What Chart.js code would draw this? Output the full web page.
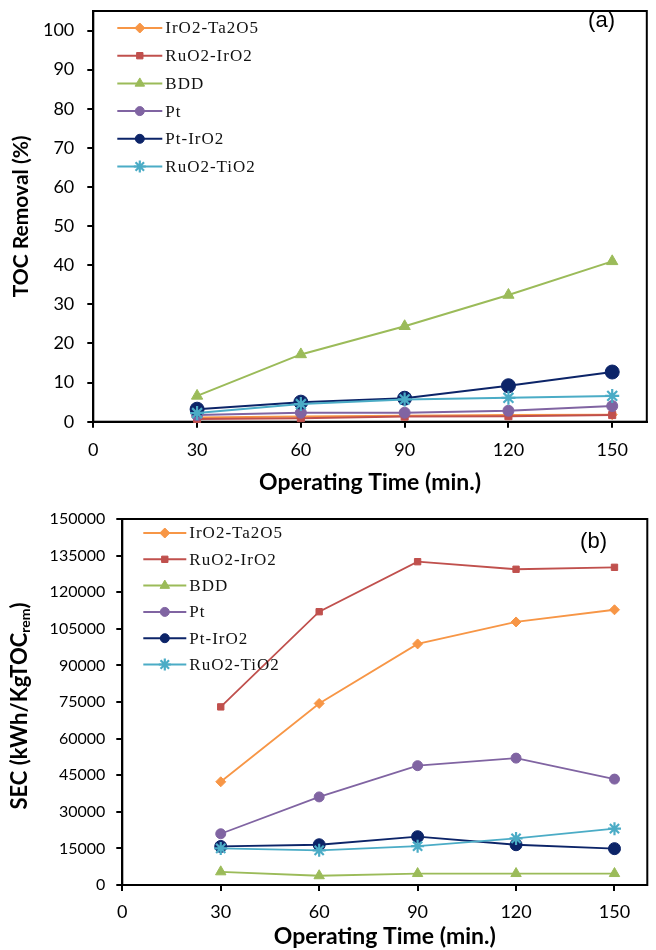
<!DOCTYPE html>
<html><head><meta charset="utf-8">
<script src="https://cdn.jsdelivr.net/npm/chart.js@4.4.1/dist/chart.umd.min.js"></script>
<style>
html,body{margin:0;padding:0;background:#fff;}
#wrap{position:relative;width:656px;height:950px;background:#fff;}
#cA{position:absolute;left:0;top:0;}
#cB{position:absolute;left:0;top:500px;}
</style></head><body>
<div id="wrap"><canvas id="cA" width="656" height="500"></canvas><canvas id="cB" width="656" height="450"></canvas></div>
<script>
// ---------- DATA ----------
const times = [30, 60, 90, 120, 150];
const seriesNames = ['IrO2-Ta2O5', 'RuO2-IrO2', 'BDD', 'Pt', 'Pt-IrO2', 'RuO2-TiO2'];

// (a) TOC Removal (%)
const tocIrO2Ta2O5 = [1.1, 1.3, 1.5, 1.7, 1.8];
const tocRuO2IrO2  = [0.7, 0.9, 1.3, 1.4, 1.7];
const tocBDD       = [6.6, 17.2, 24.4, 32.4, 41.0];
const tocPt        = [1.7, 2.3, 2.3, 2.8, 4.0];
const tocPtIrO2    = [3.2, 5.0, 6.0, 9.2, 12.7];
const tocRuO2TiO2  = [2.2, 4.5, 5.7, 6.1, 6.6];

// (b) SEC (kWh/KgTOC_rem)
const secIrO2Ta2O5 = [42300, 74400, 98800, 107800, 112800];
const secRuO2IrO2  = [73000, 112000, 132500, 129400, 130200];
const secBDD       = [5400, 3800, 4700, 4700, 4700];
const secPt        = [21000, 36100, 48900, 52000, 43400];
const secPtIrO2    = [15800, 16500, 19800, 16500, 14900];
const secRuO2TiO2  = [15000, 14200, 15900, 19100, 23100];

const xTickValues  = [0, 30, 60, 90, 120, 150];
const yTickValuesA = [0, 10, 20, 30, 40, 50, 60, 70, 80, 90, 100];
const yTickValuesB = [0, 15000, 30000, 45000, 60000, 75000, 90000, 105000, 120000, 135000, 150000];

const xTitle = 'Operating Time (min.)';
const yTitleA = 'TOC Removal (%)';
const yTitleBMain = 'SEC (kWh/KgTOC';
const yTitleBSub = 'rem';
const yTitleBEnd = ')';
const panelA = '(a)';
const panelB = '(b)';

// ---------- STYLES ----------
const colors = ['#F79646', '#C0504D', '#9BBB59', '#8064A2', '#0C2468', '#4BACC6'];
const pStyles = ['rectRot', 'rect', 'triangle', 'circle', 'circle', 'star'];
const radiiA = [5, 5, 6.5, 5.5, 7, 7];
const radiiB = [5, 4.5, 6, 5, 6, 6.5];
const legendRadii = [5, 4.5, 5.5, 4.5, 4.5, 6];

function makeDatasets(arrs, radii, lw) {
  return arrs.map((vals, i) => ({
    label: seriesNames[i],
    data: times.map((t, k) => ({x: t, y: vals[k]})),
    borderColor: colors[i],
    backgroundColor: colors[i],
    pointBackgroundColor: colors[i],
    pointBorderColor: colors[i],
    pointStyle: pStyles[i],
    pointRadius: radii[i],
    pointBorderWidth: pStyles[i] === 'star' ? 2.2 : 1,
    borderWidth: lw,
    tension: 0,
    fill: false,
    clip: false,
    order: arrs.length - i
  }));
}

const boxPlugin = {
  id: 'box',
  beforeDatasetsDraw(chart) {
    const a = chart.chartArea, ctx = chart.ctx;
    ctx.save();
    ctx.strokeStyle = '#000';
    ctx.lineWidth = 2;
    ctx.strokeRect(a.left, a.top, a.right - a.left, a.bottom - a.top);
    ctx.restore();
  }
};

const legendPlugin = {
  id: 'lineLegend',
  afterDraw(chart, args, opts) {
    const ctx = chart.ctx, a = chart.chartArea;
    ctx.save();
    chart.data.datasets.forEach((ds, i) => {
      const y = a.top + opts.y0 + i * opts.dy;
      const x0 = a.left + opts.x0, x1 = x0 + opts.len, xm = (x0 + x1) / 2;
      ctx.strokeStyle = ds.borderColor;
      ctx.lineWidth = 2;
      ctx.beginPath(); ctx.moveTo(x0, y); ctx.lineTo(x1, y); ctx.stroke();
      ctx.fillStyle = ds.borderColor;
      ctx.strokeStyle = ds.borderColor;
      ctx.lineWidth = ds.pointStyle === 'star' ? 2.2 : 1;
      Chart.helpers.drawPoint(ctx, {pointStyle: ds.pointStyle, radius: legendRadii[i], rotation: 0, borderWidth: ctx.lineWidth}, xm, y);
      ctx.fillStyle = '#111';
      ctx.font = '17px "Liberation Serif"';
      ctx.letterSpacing = '1px';
      ctx.textBaseline = 'middle';
      ctx.textAlign = 'left';
      ctx.fillText(ds.label, x1 + opts.gap, y + 1);
    });
    ctx.restore();
  }
};

const panelPlugin = {
  id: 'panelLabel',
  afterDraw(chart, args, opts) {
    const ctx = chart.ctx;
    ctx.save();
    ctx.fillStyle = '#000';
    ctx.font = '22px "Liberation Sans"';
    ctx.textAlign = 'right';
    ctx.textBaseline = 'middle';
    ctx.fillText(opts.text, opts.x, opts.y);
    ctx.restore();
  }
};

const subTitlePlugin = {
  id: 'subTitle',
  afterDraw(chart, args, opts) {
    if (!opts.main) return;
    const ctx = chart.ctx;
    ctx.save();
    ctx.fillStyle = '#000';
    const fMain = 'bold 22px Lato', fSub = 'bold 14px Lato';
    ctx.font = fMain; const w1 = ctx.measureText(opts.main).width; const w3 = ctx.measureText(opts.end).width;
    ctx.font = fSub; const w2 = ctx.measureText(opts.sub).width;
    const total = w1 + w2 + w3;
    ctx.translate(opts.x, opts.y);
    ctx.rotate(-Math.PI / 2);
    ctx.textBaseline = 'middle';
    ctx.textAlign = 'left';
    let x = -total / 2;
    ctx.font = fMain; ctx.fillText(opts.main, x, 0); x += w1;
    ctx.font = fSub; ctx.fillText(opts.sub, x, 5); x += w2;
    ctx.font = fMain; ctx.fillText(opts.end, x, 0);
    ctx.restore();
  }
};

function noPad(s) { s.paddingTop = 0; s.paddingBottom = 0; s.paddingLeft = 0; s.paddingRight = 0; }

function makeOptions(cfg) {
  return {
    responsive: false,
    animation: false,
    devicePixelRatio: 1,
    layout: {padding: {top: cfg.padTop, right: 3.3, left: 0, bottom: 0}},
    plugins: {
      legend: {display: false},
      tooltip: {enabled: false},
      lineLegend: cfg.legend,
      panelLabel: cfg.panel,
      subTitle: cfg.sub || {}
    },
    scales: {
      x: {
        type: 'linear', min: 0, max: 160,
        afterBuildTicks: s => { s.ticks = xTickValues.map(v => ({value: v})); },
        afterFit: s => { s.height = cfg.xHeight; noPad(s); },
        ticks: {color: '#000', font: {family: 'Lato', size: 18}, padding: cfg.xTickPad, maxRotation: 0, autoSkip: false},
        grid: {display: true, drawOnChartArea: false, drawTicks: true, tickLength: 6, color: '#000', lineWidth: 2},
        border: {display: true, color: '#000', width: 2},
        title: {display: true, text: xTitle, color: '#000', font: {family: 'Lato', size: 23, weight: 'bold'}, padding: {top: 0, bottom: cfg.xTitlePad}}
      },
      y: {
        type: 'linear', min: 0, max: cfg.yMax,
        afterBuildTicks: s => { s.ticks = cfg.yTicks.map(v => ({value: v})); },
        afterFit: s => { s.width = cfg.yWidth; noPad(s); },
        ticks: {color: '#000', font: {family: 'Lato', size: cfg.yTickSize}, padding: cfg.yTickPad, callback: v => String(v), autoSkip: false},
        grid: {display: true, drawOnChartArea: false, drawTicks: true, tickLength: 6, color: '#000', lineWidth: 2},
        border: {display: true, color: '#000', width: 2},
        title: {display: !!cfg.yTitle, text: cfg.yTitle || '', color: '#000', font: {family: 'Lato', size: 21, weight: 'bold'}, padding: {top: cfg.yTitlePad || 0, bottom: 0}}
      }
    }
  };
}

new Chart(document.getElementById('cA'), {
  type: 'line',
  data: {datasets: makeDatasets([tocIrO2Ta2O5, tocRuO2IrO2, tocBDD, tocPt, tocPtIrO2, tocRuO2TiO2], radiiA, 2)},
  options: makeOptions({
    padTop: 11, yMax: 105, yTicks: yTickValuesA, yWidth: 93.3, xHeight: 78.3, yTickSize: 18,
    xTickPad: 12, yTickPad: 13, xTitlePad: 4, yTitle: yTitleA, yTitlePad: 9,
    legend: {x0: 24, len: 45, gap: 3, y0: 17, dy: 27.7},
    panel: {text: panelA, x: 615, y: 21}
  }),
  plugins: [boxPlugin, legendPlugin, panelPlugin]
});

new Chart(document.getElementById('cB'), {
  type: 'line',
  data: {datasets: makeDatasets([secIrO2Ta2O5, secRuO2IrO2, secBDD, secPt, secPtIrO2, secRuO2TiO2], radiiB, 1.8)},
  options: makeOptions({
    padTop: 19, yMax: 150000, yTicks: yTickValuesB, yWidth: 122.3, xHeight: 65, yTickSize: 16,
    xTickPad: 10, yTickPad: 11, xTitlePad: 0,
    legend: {x0: 21, len: 43, gap: 3, y0: 14, dy: 26.3},
    panel: {text: panelB, x: 607, y: 42},
    sub: {main: yTitleBMain, sub: yTitleBSub, end: yTitleBEnd, x: 20, y: 206}
  }),
  plugins: [boxPlugin, legendPlugin, panelPlugin, subTitlePlugin]
});
</script>
</body></html>
